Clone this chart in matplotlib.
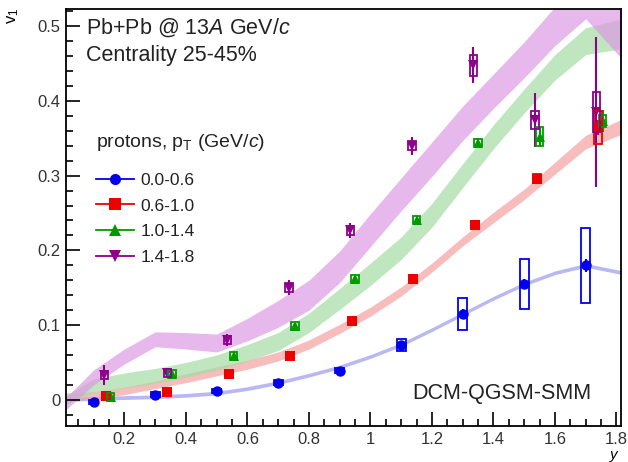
import matplotlib
matplotlib.use('Agg')
import matplotlib.pyplot as plt
from matplotlib.lines import Line2D
from matplotlib.ticker import MultipleLocator, FormatStrFormatter

plt.rcParams['font.family'] = ['Liberation Sans', 'DejaVu Sans']
plt.rcParams['mathtext.fontset'] = 'custom'
plt.rcParams['mathtext.rm'] = 'Liberation Sans'
plt.rcParams['mathtext.it'] = 'Liberation Sans:italic'

# measured v1 points (rapidity bins)
blue_x = [0.1, 0.3, 0.5, 0.7, 0.9, 1.1, 1.3, 1.5, 1.7]
blue_y = [-0.003, 0.007, 0.012, 0.023, 0.039, 0.073, 0.115, 0.155, 0.180]
blue_stat = [0.002, 0.002, 0.002, 0.002, 0.003, 0.004, 0.006, 0.007, 0.009]
blue_sys = [0.003, 0.003, 0.003, 0.003, 0.003, 0.008, 0.021, 0.033, 0.050]

red_x = [0.14, 0.34, 0.54, 0.74, 0.94, 1.14, 1.34, 1.54, 1.74]
red_y = [0.005, 0.010, 0.035, 0.059, 0.105, 0.162, 0.234, 0.296, 0.365]
red_stat = [0.002, 0.002, 0.003, 0.003, 0.004, 0.004, 0.005, 0.006, 0.010]
red_sys = [0.004, 0.004, 0.004, 0.004, 0.004, 0.004, 0.005, 0.006, 0.022]

green_x = [0.155, 0.355, 0.555, 0.755, 0.95, 1.15, 1.35, 1.55, 1.755]
green_y = [0.004, 0.035, 0.059, 0.099, 0.162, 0.241, 0.344, 0.352, 0.373]
green_stat = [0.003, 0.003, 0.004, 0.004, 0.004, 0.005, 0.006, 0.012, 0.015]
green_sys = [0.005, 0.005, 0.005, 0.005, 0.005, 0.005, 0.005, 0.0125, 0.008]

purple_x = [0.135, 0.34, 0.535, 0.735, 0.935, 1.135, 1.335, 1.535, 1.735]
purple_y = [0.033, 0.036, 0.080, 0.150, 0.227, 0.340, 0.448, 0.374, 0.385]
purple_stat = [0.013, 0.004, 0.008, 0.010, 0.010, 0.012, 0.024, 0.036, 0.100]
purple_sys = [0.005, 0.005, 0.005, 0.006, 0.006, 0.006, 0.014, 0.012, 0.027]

# DCM-QGSM-SMM model bands
model_x = [0.01, 0.1, 0.2, 0.3, 0.4, 0.5, 0.6, 0.7, 0.8, 0.9, 1.0, 1.1, 1.2, 1.3, 1.4, 1.5, 1.6, 1.7, 1.82]
blue_model = [0.000, 0.002, 0.003, 0.004, 0.006, 0.009, 0.015, 0.023, 0.033, 0.044, 0.058, 0.074, 0.094, 0.115, 0.136, 0.155, 0.170, 0.180, 0.170]
blue_model_err = [0.0025] * 19
red_model = [0.004, 0.006, 0.012, 0.020, 0.029, 0.038, 0.047, 0.058, 0.074, 0.095, 0.118, 0.145, 0.177, 0.212, 0.244, 0.275, 0.310, 0.345, 0.366]
red_model_err = [0.005, 0.005, 0.005, 0.005, 0.006, 0.006, 0.006, 0.006, 0.006, 0.006, 0.006, 0.006, 0.006, 0.006, 0.007, 0.007, 0.008, 0.009, 0.010]
green_model = [0.000, 0.019, 0.026, 0.032, 0.040, 0.050, 0.063, 0.078, 0.103, 0.135, 0.168, 0.203, 0.247, 0.300, 0.352, 0.400, 0.445, 0.480, 0.490]
green_model_err = [0.006, 0.009, 0.010, 0.010, 0.010, 0.010, 0.011, 0.012, 0.013, 0.014, 0.015, 0.015, 0.016, 0.016, 0.016, 0.016, 0.017, 0.018, 0.020]
purple_model = [-0.005, 0.030, 0.058, 0.081, 0.079, 0.076, 0.094, 0.115, 0.140, 0.178, 0.227, 0.275, 0.322, 0.370, 0.413, 0.455, 0.500, 0.540, 0.490]
purple_model_err = [0.008, 0.010, 0.010, 0.010, 0.011, 0.012, 0.015, 0.018, 0.020, 0.021, 0.022, 0.022, 0.023, 0.023, 0.023, 0.024, 0.026, 0.030, 0.035]

labels = ['0.0-0.6', '0.6-1.0', '1.0-1.4', '1.4-1.8']
colors = ['#0000ee', '#ee0000', '#009a00', '#8c008c']
band_colors = ['#9a9af0', '#f5a0a0', '#a5dca5', '#dc9ae4']
markers = ['o', 's', '^', 'v']

series = [
    (blue_x, blue_y, blue_stat, blue_sys, blue_model, blue_model_err, 0.015),
    (red_x, red_y, red_stat, red_sys, red_model, red_model_err, 0.013),
    (green_x, green_y, green_stat, green_sys, green_model, green_model_err, 0.012),
    (purple_x, purple_y, purple_stat, purple_sys, purple_model, purple_model_err, 0.012),
]

fig = plt.figure(figsize=(6.28, 4.62), dpi=100)
ax = fig.add_axes([0.105, 0.078, 0.884, 0.9025])

# model bands first, then the data on top
for i, (x, y, stat, sys_err, model, model_err, box_w) in enumerate(series):
    lo = [m - e for m, e in zip(model, model_err)]
    hi = [m + e for m, e in zip(model, model_err)]
    ax.fill_between(model_x, lo, hi, color=band_colors[i], alpha=0.7, lw=0, zorder=1)

for i, (x, y, stat, sys_err, model, model_err, box_w) in enumerate(series):
    c = colors[i]
    ax.errorbar(x, y, yerr=stat, fmt=markers[i], color=c, ms=7.5, mew=0,
                elinewidth=1.5, capsize=0, zorder=4)
    bottoms = [v - s for v, s in zip(y, sys_err)]
    heights = [2 * s for s in sys_err]
    ax.bar(x, heights, bottom=bottoms, width=2 * box_w, fill=False,
           edgecolor=c, linewidth=1.3, zorder=5)

ax.set_xlim(0.01, 1.815)
ax.set_ylim(-0.035, 0.523)

ax.xaxis.set_major_locator(MultipleLocator(0.2))
ax.xaxis.set_minor_locator(MultipleLocator(0.05))
ax.yaxis.set_major_locator(MultipleLocator(0.1))
ax.yaxis.set_minor_locator(MultipleLocator(0.02))
ax.xaxis.set_major_formatter(FormatStrFormatter('%g'))
ax.yaxis.set_major_formatter(FormatStrFormatter('%g'))
ax.tick_params(which='both', direction='in', top=False, right=False,
               labelsize=12, labelcolor='#333333', width=1.2)
ax.tick_params(which='major', length=10)
ax.tick_params(which='minor', length=5)
ax.tick_params(axis='x', pad=4.5)
ax.tick_params(axis='y', pad=4)
for sp in ax.spines.values():
    sp.set_linewidth(1.3)

fig.text(0.021, 0.965, 'v$_1$', rotation=90, ha='center', va='center', fontsize=12)
fig.text(0.977, 0.0, 'y', style='italic', ha='center', va='bottom', fontsize=11)

ax.text(0.037, 0.956, 'Pb+Pb @ 13$A$ GeV/$c$', transform=ax.transAxes, fontsize=15.5,
        va='center', ha='left', color='#222222')
ax.text(0.037, 0.888, 'Centrality 25-45%', transform=ax.transAxes, fontsize=15.5,
        va='center', ha='left', color='#222222')
ax.text(0.623, 0.077, 'DCM-QGSM-SMM', transform=ax.transAxes, fontsize=15.5,
        va='center', ha='left', color='#222222')

handles = [Line2D([], [], color=colors[i], marker=markers[i], ms=8, mew=0, lw=1.3)
           for i in range(4)]
leg = ax.legend(handles, labels, title='protons, p$_{\\rm T}$ (GeV/$c$)',
                loc='upper left', bbox_to_anchor=(0.054, 0.705), frameon=False,
                fontsize=12.5, title_fontsize=14, handlelength=2.2,
                handletextpad=0.35, labelspacing=0.62, borderaxespad=0,
                borderpad=0)
leg._legend_box.align = 'left'
leg._legend_box.sep = 14
for t in leg.get_texts():
    t.set_color('#222222')
leg.get_title().set_color('#222222')

fig.savefig('out.png', dpi=100)
